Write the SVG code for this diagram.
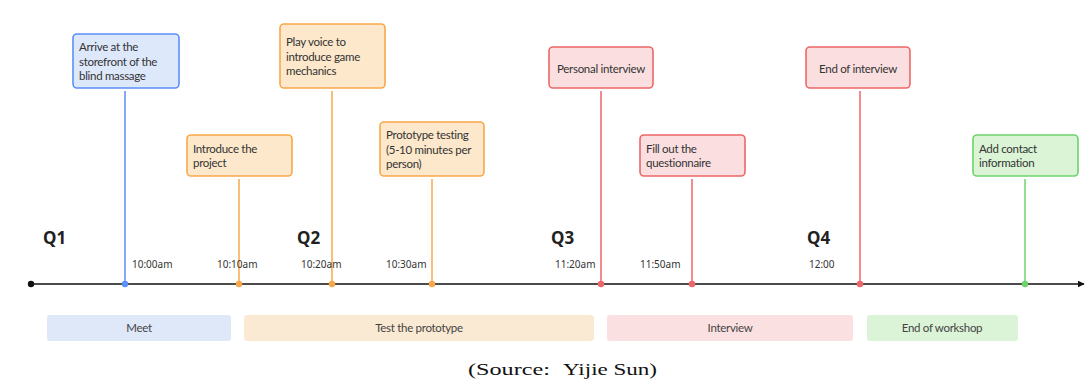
<svg xmlns="http://www.w3.org/2000/svg" width="1087" height="385" viewBox="0 0 1087 385">
  <defs>
    <marker id="arrow" viewBox="0 0 10 10" refX="9" refY="5" markerWidth="7" markerHeight="7" markerUnits="userSpaceOnUse" orient="auto">
      <path d="M0,0 L10,5 L0,10 z" fill="#111"/>
    </marker>
    <style>
      text { font-family: Lato, "Noto Sans", "Liberation Sans", sans-serif; fill: #333; }
      .lbl { font-size: 11.5px; letter-spacing: -0.3px; }
      .q { font-family: "Noto Sans", "Open Sans", sans-serif; font-size: 17px; font-weight: bold; fill: #222; }
      .tm { font-family: "Noto Sans", "Open Sans", sans-serif; font-size: 10px; fill: #333; }
      .ph { font-size: 11.5px; letter-spacing: -0.3px; fill: #444; text-anchor: middle; }
      .cap { font-family: "Liberation Serif", "DejaVu Serif", serif; font-size: 17px; fill: #111; }
      .box { stroke-width: 1.6; }
      .stem { stroke-width: 1.5; fill: none; }
      .blue { fill: #dee8fb; stroke: #5b8ff9; }
      .orange { fill: #fde8cb; stroke: #f7a84a; }
      .red { fill: #fbdfe0; stroke: #ee6666; }
      .green { fill: #daf4d5; stroke: #6cd46a; }
      .sb { stroke: #5b8ff9; }
      .so { stroke: #f7a84a; }
      .sr { stroke: #ee6666; }
      .sg { stroke: #6cd46a; }
    </style>
  </defs>

  <rect width="1087" height="385" fill="#ffffff"/>

  <!-- main axis and stems -->
  <g id="connectors">
    <line x1="31" y1="284" x2="1084" y2="284" stroke="#111" stroke-width="1.6" marker-end="url(#arrow)"/>
    <circle cx="31" cy="284" r="3.2" fill="#111"/>
    <line class="stem sb" x1="125" y1="91" x2="125" y2="284"/>
    <line class="stem so" x1="239" y1="179" x2="239" y2="284"/>
    <line class="stem so" x1="332" y1="91" x2="332" y2="284"/>
    <line class="stem so" x1="432" y1="179" x2="432" y2="284"/>
    <line class="stem sr" x1="601" y1="91" x2="601" y2="284"/>
    <line class="stem sr" x1="692" y1="179" x2="692" y2="284"/>
    <line class="stem sr" x1="860" y1="91" x2="860" y2="284"/>
    <line class="stem sg" x1="1025" y1="179" x2="1025" y2="284"/>
    <circle cx="125" cy="284" r="3.2" fill="#5b8ff9"/>
    <circle cx="239" cy="284" r="3.2" fill="#f7a84a"/>
    <circle cx="332" cy="284" r="3.2" fill="#f7a84a"/>
    <circle cx="432" cy="284" r="3.2" fill="#f7a84a"/>
    <circle cx="601" cy="284" r="3.2" fill="#ee6666"/>
    <circle cx="692" cy="284" r="3.2" fill="#ee6666"/>
    <circle cx="860" cy="284" r="3.2" fill="#ee6666"/>
    <circle cx="1025" cy="284" r="3.2" fill="#6cd46a"/>
  </g>

  <!-- quarter headings -->
  <g id="quarters">
    <text class="q" x="43" y="244">Q1</text>
    <text class="q" x="297" y="244">Q2</text>
    <text class="q" x="551" y="244">Q3</text>
    <text class="q" x="807" y="244">Q4</text>
  </g>

  <!-- times -->
  <g id="times">
    <text class="tm" x="132" y="268">10:00am</text>
    <text class="tm" x="217" y="268">10:10am</text>
    <text class="tm" x="301" y="268">10:20am</text>
    <text class="tm" x="386" y="268">10:30am</text>
    <text class="tm" x="555" y="268">11:20am</text>
    <text class="tm" x="640" y="268">11:50am</text>
    <text class="tm" x="809" y="268">12:00</text>
  </g>

  <!-- event cards -->
  <g id="arrive">
    <rect class="box blue" x="73" y="34" width="106" height="54" rx="4"/>
    <text class="lbl" x="79" y="51">Arrive at the</text>
    <text class="lbl" x="79" y="65.5">storefront of the</text>
    <text class="lbl" x="79" y="80">blind massage</text>
  </g>
  <g id="introduce">
    <rect class="box orange" x="187" y="135" width="105" height="41" rx="4"/>
    <text class="lbl" x="193" y="152.5">Introduce the</text>
    <text class="lbl" x="193" y="167">project</text>
  </g>
  <g id="voice">
    <rect class="box orange" x="280" y="24" width="105" height="64" rx="4"/>
    <text class="lbl" x="286" y="46">Play voice to</text>
    <text class="lbl" x="286" y="60.5">introduce game</text>
    <text class="lbl" x="286" y="75">mechanics</text>
  </g>
  <g id="prototype">
    <rect class="box orange" x="380" y="122" width="104" height="54" rx="4"/>
    <text class="lbl" x="386" y="139">Prototype testing</text>
    <text class="lbl" x="386" y="153.5">(5-10 minutes per</text>
    <text class="lbl" x="386" y="168">person)</text>
  </g>
  <g id="personal">
    <rect class="box red" x="549" y="47" width="104" height="41" rx="4"/>
    <text class="lbl" x="601" y="72.5" text-anchor="middle">Personal interview</text>
  </g>
  <g id="questionnaire">
    <rect class="box red" x="640" y="135" width="105" height="41" rx="4"/>
    <text class="lbl" x="646" y="152.5">Fill out the</text>
    <text class="lbl" x="646" y="167">questionnaire</text>
  </g>
  <g id="end-interview">
    <rect class="box red" x="806" y="47" width="104" height="41" rx="4"/>
    <text class="lbl" x="858" y="72.5" text-anchor="middle">End of interview</text>
  </g>
  <g id="contact">
    <rect class="box green" x="973" y="135" width="105" height="41" rx="4"/>
    <text class="lbl" x="979" y="152.5">Add contact</text>
    <text class="lbl" x="979" y="167">information</text>
  </g>

  <!-- phase bands -->
  <g id="phase-meet">
    <rect x="47" y="315" width="184" height="26" rx="3" fill="#dfe8f9"/>
    <text class="ph" x="139" y="332">Meet</text>
  </g>
  <g id="phase-test">
    <rect x="244" y="315" width="350" height="26" rx="3" fill="#fbead3"/>
    <text class="ph" x="419" y="332">Test the prototype</text>
  </g>
  <g id="phase-interview">
    <rect x="607" y="315" width="246" height="26" rx="3" fill="#fbe0e2"/>
    <text class="ph" x="730" y="332">Interview</text>
  </g>
  <g id="phase-end">
    <rect x="867" y="315" width="151" height="26" rx="3" fill="#dbf3d7"/>
    <text class="ph" x="942" y="332">End of workshop</text>
  </g>

  <!-- caption -->
  <text class="cap" y="375"><tspan x="468" textLength="82" lengthAdjust="spacingAndGlyphs">(Source:</tspan> <tspan x="563" textLength="94" lengthAdjust="spacingAndGlyphs">Yijie Sun)</tspan></text>
</svg>
